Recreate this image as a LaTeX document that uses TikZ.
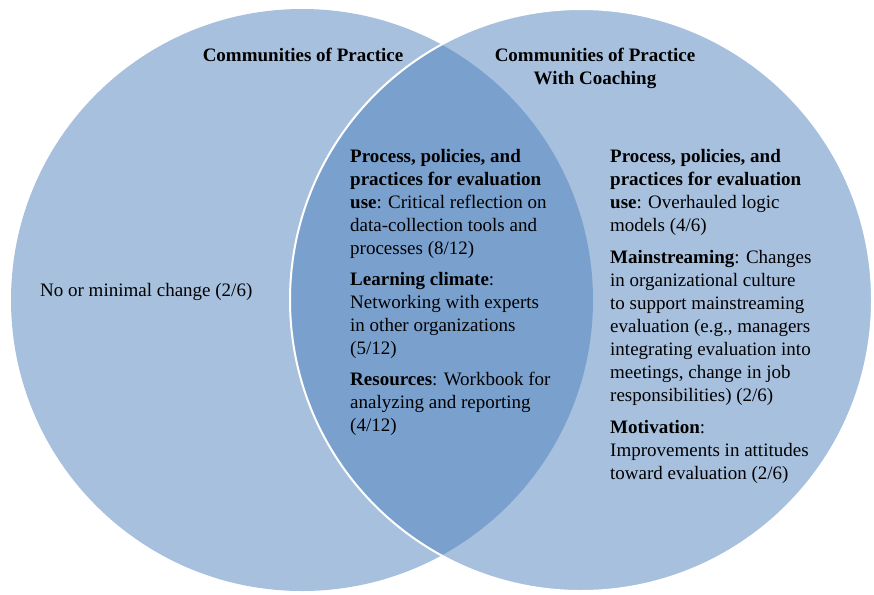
\documentclass[tikz,border=0pt]{standalone}
\usepackage{fontspec}
\setmainfont{Liberation Serif}
\definecolor{vennblue}{HTML}{4F81BD}
\tikzset{
  venncircle/.style={circle, inner sep=0pt, minimum size=582pt,
    fill=vennblue, fill opacity=0.5, draw=none},
  rimcircle/.style={venncircle, draw=white, draw opacity=1, line width=2pt},
  titletext/.style={font=\fontsize{19}{23}\selectfont\bfseries, align=center, inner sep=0pt},
  bodytext/.style={font=\fontsize{19}{23}\selectfont, align=left, inner sep=0pt}
}
\begin{document}
\begin{tikzpicture}[x=1pt, y=-1pt]
    \useasboundingbox (0,0) rectangle (874,594);
    % the two overlapping groups
    \node[venncircle] (plain) at (302,300) {};
    \node[rimcircle] (coached) at (581,300) {};
    % headings
    \node[titletext, anchor=north] (plaintitle) at (303,48) {Communities of Practice};
    \node[titletext, anchor=north] (coachtitle) at (595,48) {Communities of Practice\\With Coaching};
    % left only
    \node[bodytext, anchor=west] (nochange) at (40,292) {No or minimal change (2/6)};
    % overlap
    \node[bodytext, anchor=north west] (shared) at (350,149) {%
      \textbf{Process, policies, and}\\
      \textbf{practices for evaluation}\\
      \textbf{use}: Critical reflection on\\
      data-collection tools and\\
      processes (8/12)\\[8pt]
      \textbf{Learning climate}:\\
      Networking with experts\\
      in other organizations\\
      (5/12)\\[8pt]
      \textbf{Resources}: Workbook for\\
      analyzing and reporting\\
      (4/12)};
    % right only
    \node[bodytext, anchor=north west] (coachonly) at (610,149) {%
      \textbf{Process, policies, and}\\
      \textbf{practices for evaluation}\\
      \textbf{use}: Overhauled logic\\
      models (4/6)\\[9pt]
      \textbf{Mainstreaming}: Changes\\
      in organizational culture\\
      to support mainstreaming\\
      evaluation (e.g., managers\\
      integrating evaluation into\\
      meetings, change in job\\
      responsibilities) (2/6)\\[9pt]
      \textbf{Motivation}:\\
      Improvements in attitudes\\
      toward evaluation (2/6)};
\end{tikzpicture}
\end{document}
